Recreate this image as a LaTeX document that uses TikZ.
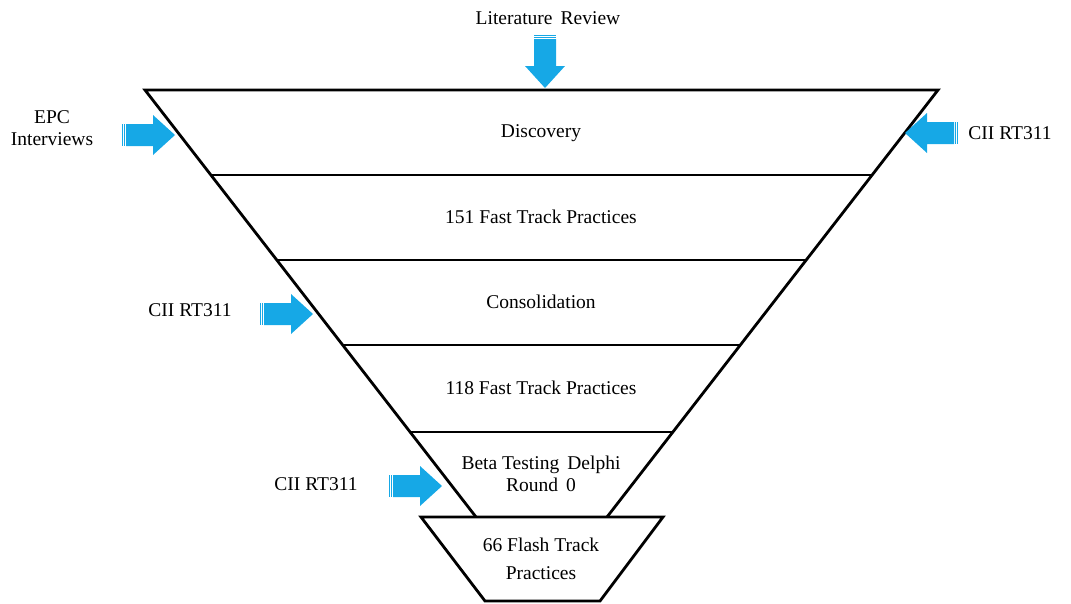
\documentclass[tikz,border=0pt]{standalone}
\usepackage{fontspec}
\setmainfont{Liberation Serif}
\usetikzlibrary{calc,positioning}
\definecolor{feedblue}{RGB}{22,168,230}
\tikzset{
  stage_txt/.style = {align=center, inner sep=0pt,
    font=\fontsize{19.5}{22}\selectfont},% text inside the funnel
  src_txt/.style = {stage_txt},% text of the sources
  funnel/.style = {draw=black, line width=2.8pt, line join=miter},
  pics/feed/.style = {code={% blue arrow, tip at origin
    \fill[feedblue] (0,0) -- (-22,-20) -- (-22,-11) -- (-49,-11)
      -- (-49,11) -- (-22,11) -- (-22,20) -- cycle;
    \fill[feedblue] (-51.2,-11) rectangle (-50.2,11);
    \fill[feedblue] (-53.4,-11) rectangle (-52.4,11);
  }}
}
\begin{document}
\begin{tikzpicture}[x=1pt,y=-1pt]
  \useasboundingbox (0,0) rectangle (1071,603);
  % funnel
  \coordinate (tl) at (145,90);
  \coordinate (tr) at (938,90);
  \coordinate (bl) at (476,517);
  \coordinate (br) at (607,517);
  \draw[funnel] (bl) -- (tl) -- (tr) -- (br);
  \foreach \f in {0.199,0.398,0.597,0.801}
    \draw[funnel] ($(tl)!\f!(bl)$) -- ($(tr)!\f!(br)$);
  \draw[funnel] (421,517) -- (663,517) -- (600,601) -- (485,601) -- cycle;
  % stages
  \node[stage_txt] (disc) at (541,133) {Discovery};
  \node[stage_txt] (ft151) at (541,217) {151 Fast Track Practices};
  \node[stage_txt] (cons) at (541,302) {Consolidation};
  \node[stage_txt] (ft118) at (541,388) {118 Fast Track Practices};
  \node[stage_txt] (beta) at (541,474) {Beta Testing\, Delphi\\Round\, 0};
  \node[stage_txt, font=\fontsize{19.5}{28}\selectfont] (flash) at (541,559) {66 Flash Track\\Practices};
  % sources
  \node[src_txt] (lit) at (548,18) {Literature\, Review};
  \node[src_txt] (epc) at (52,128) {EPC\\Interviews};
  \node[src_txt] (rt_r) at (1010,133) {CII RT311};
  \node[src_txt] (rt_l) at (190,310) {CII RT311};
  \node[src_txt] (rt_b) at (316,484) {CII RT311};
  % arrows
  \pic[rotate=-90] at (545,88) {feed};
  \pic at (175,135) {feed};
  \pic[rotate=180] at (905,133) {feed};
  \pic at (313,314) {feed};
  \pic at (442,486) {feed};
\end{tikzpicture}
\end{document}
